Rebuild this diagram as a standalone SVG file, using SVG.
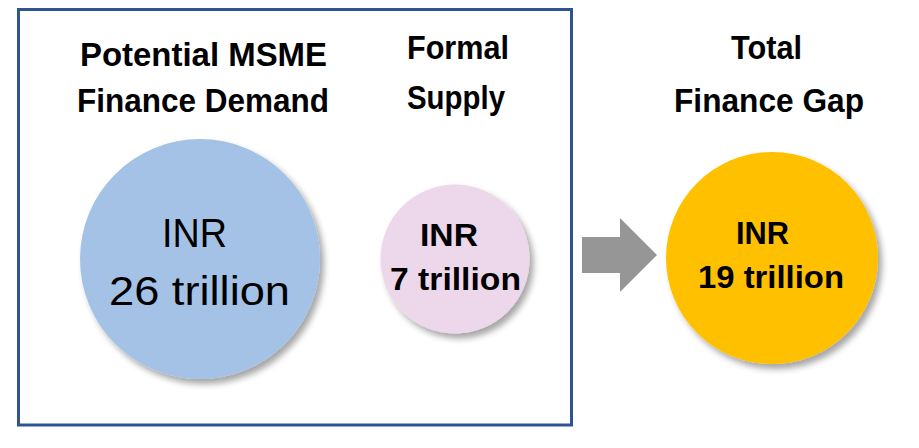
<svg xmlns="http://www.w3.org/2000/svg" width="919" height="448" viewBox="0 0 919 448">
<style>
.t{font-family:"Liberation Sans",Arial,sans-serif;font-weight:bold;fill:#000;font-size:33px}
.b{font-family:"Liberation Sans",Arial,sans-serif;font-weight:bold;fill:#000;font-size:31px}
.r{font-family:"Liberation Sans",Arial,sans-serif;fill:#000;font-size:40px}
</style>
<defs>
<filter id="sh" x="-20%" y="-20%" width="140%" height="140%">
<feDropShadow dx="4" dy="5" stdDeviation="3" flood-color="#000" flood-opacity="0.35"/>
</filter>
</defs>
<rect x="0" y="0" width="919" height="448" fill="#fff"/>
<g id="frame"><rect x="18.5" y="9.5" width="553" height="415.5" fill="none" stroke="#2E5591" stroke-width="3"/></g>
<g id="demand">
<text class="t" x="80" y="66" textLength="247" lengthAdjust="spacingAndGlyphs">Potential MSME</text>
<text class="t" x="77" y="112" textLength="252" lengthAdjust="spacingAndGlyphs">Finance Demand</text>
<circle cx="200" cy="259" r="120" fill="#A4C2E6" filter="url(#sh)"/>
<text class="r" x="162" y="247" textLength="65" lengthAdjust="spacingAndGlyphs">INR</text>
<text class="r" x="109" y="305" textLength="181" lengthAdjust="spacingAndGlyphs">26 trillion</text>
</g>
<g id="supply">
<text class="t" x="407" y="59" textLength="102" lengthAdjust="spacingAndGlyphs">Formal</text>
<text class="t" x="407" y="109" textLength="98" lengthAdjust="spacingAndGlyphs">Supply</text>
<circle cx="455" cy="259" r="74.5" fill="#EDD7EA" filter="url(#sh)"/>
<text class="b" x="420" y="246" textLength="58" lengthAdjust="spacingAndGlyphs">INR</text>
<text class="b" x="390" y="290" textLength="131" lengthAdjust="spacingAndGlyphs">7 trillion</text>
</g>
<g id="connectors">
<polygon points="582,237 620,237 620,218 657,255 620,292 620,273 582,273" fill="#969696"/>
</g>
<g id="gap">
<text class="t" x="731" y="59" textLength="71" lengthAdjust="spacingAndGlyphs">Total</text>
<text class="t" x="674" y="112" textLength="190" lengthAdjust="spacingAndGlyphs">Finance Gap</text>
<circle cx="772" cy="258" r="106" fill="#FFC000" filter="url(#sh)"/>
<text class="b" x="736" y="244" textLength="53" lengthAdjust="spacingAndGlyphs">INR</text>
<text class="b" x="698" y="288" textLength="146" lengthAdjust="spacingAndGlyphs">19 trillion</text>
</g>
</svg>
